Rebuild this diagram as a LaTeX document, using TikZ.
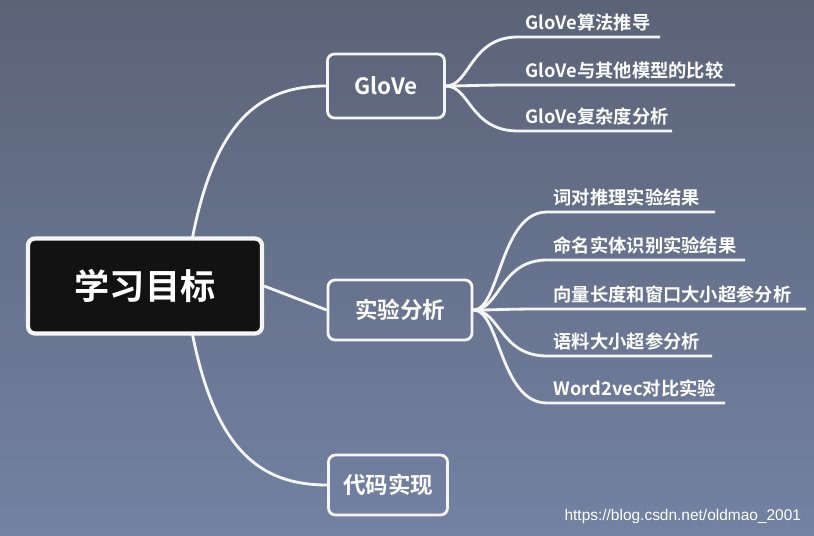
\documentclass[tikz,border=0pt]{standalone}
\usepackage{fontspec}
\setmainfont{Liberation Sans}
\newfontfamily\cjk{Noto Sans CJK SC}[BoldFont={Noto Sans CJK SC Bold}]
\definecolor{bgtop}{HTML}{5B6377}
\definecolor{bgbot}{HTML}{7382A3}
\definecolor{boxfill}{HTML}{121212}
\tikzset{
  topic/.style={draw=white!92!gray,line width=2pt,rounded corners=5pt,
    text=white,font=\cjk\bfseries\fontsize{16}{18}\selectfont,inner sep=0pt},
  leaf/.style={text=white,font=\cjk\bfseries\fontsize{13}{15}\selectfont,
    anchor=south west,inner xsep=1pt,inner ysep=4pt},
  branch/.style={draw=white!92!gray,line width=2pt}
}
\begin{document}
\begin{tikzpicture}[x=0.025cm,y=-0.025cm]
  \shade[top color=bgtop,bottom color=bgbot] (0,0) rectangle (814,536);
  % main topics
  \node[topic,fill=boxfill,minimum width=234*0.025cm,minimum height=95*0.025cm,
    font=\cjk\bfseries\fontsize{25}{28}\selectfont,line width=3pt] (goal) at (145,286) {学习目标};
  \node[topic,minimum width=117*0.025cm,minimum height=64*0.025cm] (glove) at (386,86) {GloVe};
  \node[topic,minimum width=144*0.025cm,minimum height=60*0.025cm] (exp) at (400,310) {实验分析};
  \node[topic,minimum width=119*0.025cm,minimum height=60*0.025cm] (code) at (388,485) {代码实现};
  \draw[branch] (192,240) .. controls (215,120) and (260,86) .. (glove.west);
  \draw[branch] (goal.east) -- (exp.west);
  \draw[branch] (192,332) .. controls (215,450) and (260,485) .. (code.west);
  % GloVe leaves
  \coordinate (g0) at (glove.east);
  \foreach \name/\y/\xe/\txt in {ga/37/660/GloVe算法推导,gb/85/735/GloVe与其他模型的比较,gc/131/672/GloVe复杂度分析}{
    \node[leaf] (\name) at (524,\y) {\txt};
    \draw[branch] (g0) .. controls (470,86) and (470,\y) .. (518,\y) -- (\xe,\y);
  }
  % experiment leaves
  \coordinate (e0) at (exp.east);
  \foreach \name/\y/\xe/\txt in {ea/212/715/词对推理实验结果,eb/260/745/命名实体识别实验结果,
      ec/309/806/向量长度和窗口大小超参分析,ed/356/712/语料大小超参分析,ee/403/725/Word2vec对比实验}{
    \node[leaf] (\name) at (552,\y) {\txt};
    \draw[branch] (e0) .. controls (500,310) and (500,\y) .. (547,\y) -- (\xe,\y);
  }
  \node[text=white,font=\fontsize{11}{13}\selectfont,anchor=east] (mark) at (806,516) {https://blog.csdn.net/oldmao\_2001};
\end{tikzpicture}
\end{document}
